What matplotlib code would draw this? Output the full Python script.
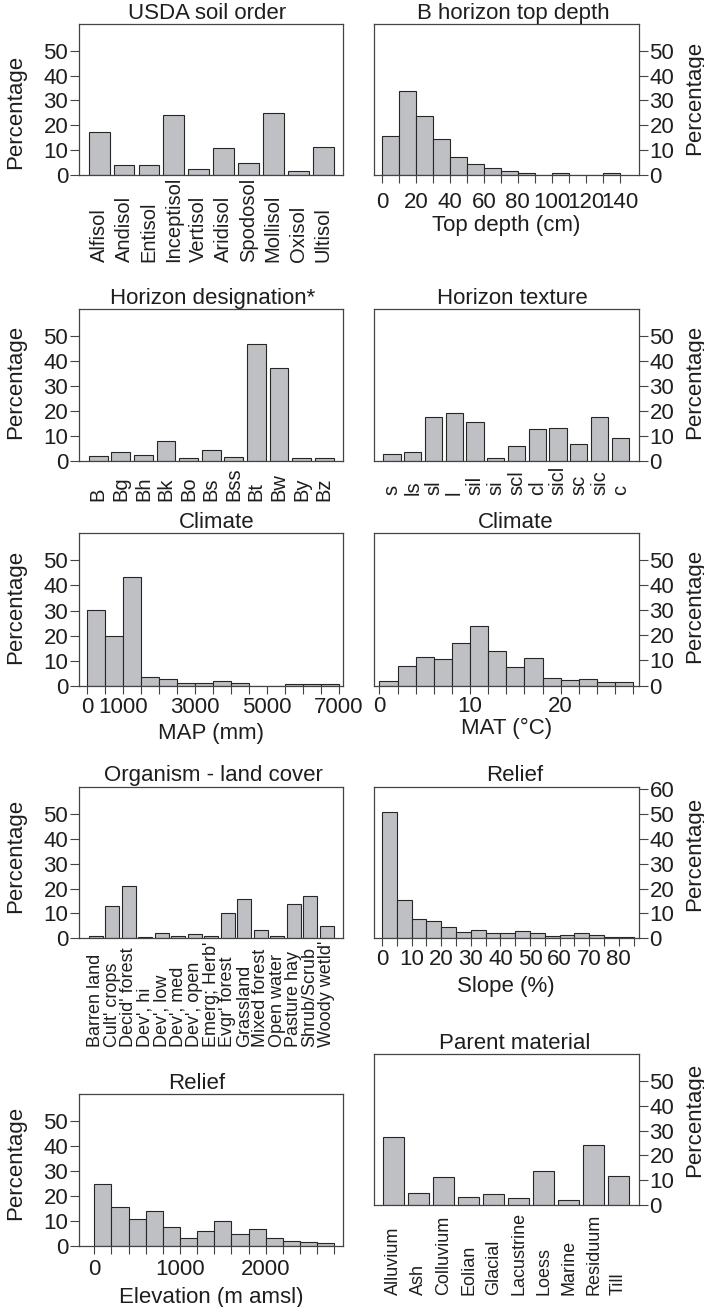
import numpy as np
import matplotlib
matplotlib.use('Agg')
import matplotlib.pyplot as plt
import matplotlib.transforms as mtransforms

plt.rcParams['font.family'] = ['Liberation Sans', 'DejaVu Sans']

#--------------------------------------------------------------------------#
# Data (percentages)
#--------------------------------------------------------------------------#
soil_orders = ['Alfisol', 'Andisol', 'Entisol', 'Inceptisol', 'Vertisol',
               'Aridisol', 'Spodosol', 'Mollisol', 'Oxisol', 'Ultisol']
soil_order_pct = [17.3, 4.2, 4.2, 24.0, 2.3, 10.7, 4.7, 24.8, 1.6, 11.4]

depth_edges = [0, 10, 20, 30, 40, 50, 60, 70, 80, 90, 100, 110, 120, 130, 140]
depth_pct = [15.7, 33.9, 23.7, 14.3, 7.4, 4.3, 2.7, 1.5, 0.9, 0, 0.7, 0, 0, 0.7]
depth_labels = [0, 20, 40, 60, 80, 100, 120, 140]

horizons = ['B', 'Bg', 'Bh', 'Bk', 'Bo', 'Bs', 'Bss', 'Bt', 'Bw', 'By', 'Bz']
horizon_pct = [1.7, 3.4, 2.4, 7.8, 1.1, 4.3, 1.3, 46.9, 37.2, 0.9, 0.9]

textures = ['s', 'ls', 'sl', 'l', 'sil', 'si', 'scl', 'cl', 'sicl', 'sc',
            'sic', 'c']
texture_pct = [2.5, 3.5, 17.4, 19.1, 15.6, 1.2, 6.0, 12.8, 13.0, 6.6, 17.5, 9.1]

map_edges = [0, 500, 1000, 1500, 2000, 2500, 3000, 3500, 4000, 4500, 5000,
             5500, 6000, 6500, 7000]
map_pct = [30.3, 20.0, 43.5, 3.4, 2.8, 0.9, 0.9, 1.7, 0.9, 0, 0, 0.7, 0.7, 0.7]
map_labels = [0, 1000, 3000, 5000, 7000]

mat_edges = [0, 2, 4, 6, 8, 10, 12, 14, 16, 18, 20, 22, 24, 26, 28]
mat_pct = [1.7, 7.6, 11.2, 10.4, 16.8, 23.7, 13.6, 7.3, 10.8, 3.1, 2.0, 2.5,
           1.3, 1.3]
mat_labels = [0, 10, 20]

land_cover = ["Barren land", "Cult' crops", "Decid' forest", "Dev', hi",
              "Dev', low", "Dev', med", "Dev', open", "Emerg; Herb'",
              "Evgr' forest", "Grassland", "Mixed forest", "Open water",
              "Pasture hay", "Shrub/Scrub", "Woody wetld'"]
land_pct = [0.9, 12.8, 21.2, 0.5, 2.2, 0.9, 1.9, 0.9, 10.1, 15.7, 3.4, 1.1,
            13.7, 16.9, 5.1]

slope_edges = [0, 5, 10, 15, 20, 25, 30, 35, 40, 45, 50, 55, 60, 65, 70, 75,
               80, 85]
slope_pct = [50.8, 15.4, 7.8, 6.8, 4.4, 2.4, 3.2, 2.3, 2.0, 2.8, 2.3, 1.1, 1.5,
             2.0, 1.3, 0.7, 0.7]
slope_labels = [0, 10, 20, 30, 40, 50, 60, 70, 80]

elev_edges = [0, 200, 400, 600, 800, 1000, 1200, 1400, 1600, 1800, 2000, 2200,
              2400, 2600, 2800]
elev_pct = [24.5, 15.6, 10.8, 13.7, 7.3, 2.9, 5.7, 10.0, 4.7, 6.5, 3.1, 1.9,
            1.6, 1.2]
elev_labels = [0, 1000, 2000]

parents = ['Alluvium', 'Ash', 'Colluvium', 'Eolian', 'Glacial', 'Lacustrine',
           'Loess', 'Marine', 'Residuum', 'Till']
parent_pct = [27.6, 5.0, 11.4, 3.4, 4.5, 2.9, 13.8, 1.9, 24.1, 11.7]

#--------------------------------------------------------------------------#
# Styling
#--------------------------------------------------------------------------#
FIG_W, FIG_H = 704, 1307
BAR_FILL = '#bfc0c4'
BAR_EDGE = '#262626'
FRAME = '#444444'
TEXT = '#1e1e1e'
BIG = 16


def px_rect(x0, top, w, bottom):
    '''
    Converts a pixel box (left, top, width, bottom) into figure fractions
    '''
    return [x0 / FIG_W, 1 - bottom / FIG_H, w / FIG_W, (bottom - top) / FIG_H]


def base_axes(fig, rect, side, title, title_dx, title_pad, ylab_y, top_tick=50):
    ax = fig.add_axes(rect)
    ax.set_ylim(0, 60.8)
    ax.set_yticks(list(range(0, top_tick + 1, 10)))
    for s in ax.spines.values():
        s.set_color(FRAME)
        s.set_linewidth(0.9)
    if side == 'right':
        ax.yaxis.tick_right()
        ax.yaxis.set_label_position('right')
    ax.tick_params(axis='y', length=6.5, width=0.8, pad=1.2, labelsize=BIG,
                   color=FRAME, labelcolor=TEXT)
    ax.set_ylabel('Percentage', fontsize=BIG, color=TEXT)
    ax.yaxis.set_label_coords(1.171 if side == 'right' else -0.2, ylab_y)
    w_px = rect[2] * FIG_W
    ax.set_title(title, fontsize=BIG, color=TEXT, pad=title_pad * 0.72,
                 x=0.5 + title_dx / w_px)
    return ax


def bar_panel(ax, cats, vals, label_y, label_size):
    '''
    R barplot look: unit bars with 0.2 gaps, names stacked upwards from below
    '''
    n = len(vals)
    lefts = 0.2 + 1.2 * np.arange(n)
    ax.bar(lefts, vals, width=1.0, align='edge', color=BAR_FILL,
           edgecolor=BAR_EDGE, linewidth=0.8)
    span = 1.2 * n - 0.2
    ax.set_xlim(0.2 - 0.04 * span, 1.2 * n + 0.04 * span)
    ax.set_xticks([])
    trans = mtransforms.blended_transform_factory(ax.transData, ax.transAxes)
    for x, lab in zip(lefts + 0.5, cats):
        ax.text(x, label_y, lab, rotation=90, ha='center', va='bottom',
                transform=trans, fontsize=label_size, color=TEXT)


def hist_panel(ax, edges, vals, labels, xlim, xlabel, tick_pad, label_pad):
    edges = np.asarray(edges, dtype=float)
    ax.bar(edges[:-1], vals, width=np.diff(edges), align='edge',
           color=BAR_FILL, edgecolor=BAR_EDGE, linewidth=0.8)
    ax.set_xlim(*xlim)
    ax.set_xticks(edges)
    ax.set_xticklabels([str(int(e)) if int(e) in labels else ''
                        for e in edges])
    ax.tick_params(axis='x', length=6, width=0.8, pad=tick_pad,
                   labelsize=BIG, color=FRAME, labelcolor=TEXT)
    ax.set_xlabel(xlabel, fontsize=BIG, color=TEXT, labelpad=label_pad)


def main():
    fig = plt.figure(figsize=(FIG_W / 100, FIG_H / 100), dpi=100)
    fig.patch.set_facecolor('white')

    LX, LW = 79, 264.3
    RX, RW = 373.5, 265.2

    # row 1
    ax = base_axes(fig, px_rect(LX, 24, LW, 175), 'left', 'USDA soil order',
                   -4, 3, 0.419)
    bar_panel(ax, soil_orders, soil_order_pct, -0.576, 14.5)

    ax = base_axes(fig, px_rect(RX, 24, RW, 175), 'right',
                   'B horizon top depth', 7, 3, 0.508)
    hist_panel(ax, depth_edges, depth_pct, depth_labels, (-5.1, 151.3),
               'Top depth (cm)', 6.5, 1.0)

    # row 2
    ax = base_axes(fig, px_rect(LX, 309.3, LW, 460.7), 'left',
                   'Horizon designation*', 1, 4.3, 0.517)
    bar_panel(ax, horizons, horizon_pct, -0.266, 14.5)

    ax = base_axes(fig, px_rect(RX, 309.3, RW, 460.7), 'right',
                   'Horizon texture', 6.6, 4.3, 0.522)
    bar_panel(ax, textures, texture_pct, -0.227, 14.5)

    # row 3
    ax = base_axes(fig, px_rect(LX, 533.3, LW, 685.7), 'left', 'Climate',
                   5.7, 3.3, 0.516)
    hist_panel(ax, map_edges, map_pct, map_labels, (-231, 7119),
               'MAP (mm)', 2.0, 4.0)

    ax = base_axes(fig, px_rect(RX, 533.3, RW, 685.5), 'right', 'Climate',
                   10, 3.3, 0.52)
    hist_panel(ax, mat_edges, mat_pct, mat_labels, (-0.66, 28.62),
               'MAT (°C)', 1.2, 1.0)

    # row 4
    ax = base_axes(fig, px_rect(LX, 787, LW, 938.3), 'left',
                   'Organism - land cover', 2, 6.3, 0.544)
    bar_panel(ax, land_cover, land_pct, -0.716, 13)

    ax = base_axes(fig, px_rect(RX, 787, RW, 938.3), 'right', 'Relief',
                   8.5, 6.3, 0.56, top_tick=60)
    hist_panel(ax, slope_edges, slope_pct, slope_labels, (-2.9, 86.7),
               'Slope (%)', 2.0, 4.0)

    # row 5
    ax = base_axes(fig, px_rect(LX, 1093.7, LW, 1245.7), 'left', 'Relief',
                   -14, 2, 0.547)
    hist_panel(ax, elev_edges, elev_pct, elev_labels, (-178, 2905),
               'Elevation (m amsl)', 3.8, 5.0)

    ax = base_axes(fig, px_rect(RX, 1054.3, RW, 1205), 'right',
                   'Parent material', 8.5, 3.3, 0.567)
    bar_panel(ax, parents, parent_pct, -0.597, 13)

    fig.savefig('out.png', dpi=100, facecolor='white')


if __name__ == '__main__':
    main()
